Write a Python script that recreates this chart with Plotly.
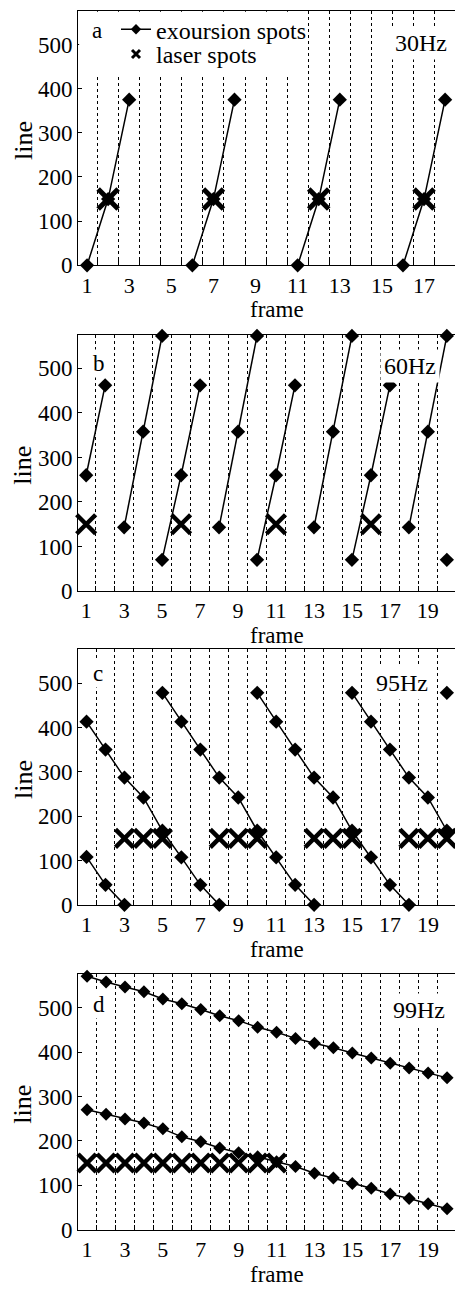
import plotly.graph_objects as go

# ---------------- data ----------------
# panel a : 30Hz
a_exc_frame = [1, 2, 3, None, 6, 7, 8, None, 11, 12, 13, None, 16, 17, 18]
a_exc_line = [0, 150, 375, None, 0, 150, 375, None, 0, 150, 375, None, 0, 150, 375]
a_laser_frame = [2, 7, 12, 17]
a_laser_line = [150, 150, 150, 150]

# panel b : 60Hz
b_exc_frame = [1, 2, None, 3, 4, 5, None, 5, 6, 7, None, 8, 9, 10, None, 10, 11, 12, None,
               13, 14, 15, None, 15, 16, 17, None, 18, 19, 20, None, 20]
b_exc_line = [260, 462, None, 143, 358, 573, None, 70, 260, 462, None, 143, 358, 573, None,
              70, 260, 462, None, 143, 358, 573, None, 70, 260, 462, None, 143, 358, 573, None, 70]
b_laser_frame = [1, 6, 11, 16]
b_laser_line = [150, 150, 150, 150]

# panel c : 95Hz
c_exc_frame = [1, 2, 3, None,
               1, 2, 3, 4, 5, 6, 7, 8, None,
               5, 6, 7, 8, 9, 10, 11, 12, 13, None,
               10, 11, 12, 13, 14, 15, 16, 17, 18, None,
               15, 16, 17, 18, 19, 20, None,
               20]
c_exc_line = [108, 45, 0, None,
              413, 350, 287, 242, 167, 107, 45, 0, None,
              478, 413, 350, 287, 242, 167, 107, 45, 0, None,
              478, 413, 350, 287, 242, 167, 107, 45, 0, None,
              478, 413, 350, 287, 242, 167, None,
              478]
c_laser_frame = [3, 4, 5, 8, 9, 10, 13, 14, 15, 18, 19, 20]
c_laser_line = [150] * 12

# panel d : 99Hz
d_frames = list(range(1, 21))
d_exc_top = [571, 558, 547, 536, 520, 509, 496, 482, 471, 456,
             445, 431, 420, 410, 398, 387, 375, 364, 353, 342]
d_exc_bot = [270, 260, 249, 240, 227, 209, 198, 184, 173, 164,
             153, 142, 127, 116, 104, 93, 80, 70, 58, 47]
d_exc_frame = d_frames + [None] + d_frames
d_exc_line = d_exc_top + [None] + d_exc_bot
d_laser_frame = list(range(1, 12))
d_laser_line = [150] * 11

y_ticks = [0, 100, 200, 300, 400, 500]
x_ticks_a = [1, 3, 5, 7, 9, 11, 13, 15, 17]
x_ticks_bcd = [1, 3, 5, 7, 9, 11, 13, 15, 17, 19]
labels = ["a", "b", "c", "d"]
freqs = ["30Hz", "60Hz", "95Hz", "99Hz"]
legend_names = ["exoursion spots", "laser spots"]

# ---------------- layout geometry ----------------
W, H = 455, 1292
FONT = "Liberation Serif"
panel_px = [(11, 268), (338, 597), (656, 914), (984, 1242)]
x_left_px = 78
x_ranges = [[0.57, 18.47], [0.57, 20.43], [0.55, 20.43], [0.52, 20.42]]


def fy(p):
    return 1 - p / H


def fx(p):
    return p / W


panels = [
    (a_exc_frame, a_exc_line, a_laser_frame, a_laser_line, x_ticks_a, 11, 20, 5),
    (b_exc_frame, b_exc_line, b_laser_frame, b_laser_line, x_ticks_bcd, 11, 19, 4.5),
    (c_exc_frame, c_exc_line, c_laser_frame, c_laser_line, x_ticks_bcd, 11, 18, 4.5),
    (d_exc_frame, d_exc_line, d_laser_frame, d_laser_line, x_ticks_bcd, 10, 18, 4.5),
]

fig = go.Figure()
leg_common = dict(xanchor="left", yanchor="middle", bgcolor="rgba(0,0,0,0)",
                  font=dict(family=FONT, size=24), itemsizing="trace")
layout = dict(
    width=W, height=H,
    margin=dict(l=0, r=0, t=0, b=0),
    paper_bgcolor="white", plot_bgcolor="white",
    font=dict(family=FONT, size=22, color="black"),
    showlegend=True,
    legend=dict(x=fx(116), y=fy(30), **leg_common),
    legend2=dict(x=fx(116), y=fy(55), **leg_common),
)
annotations = []
shapes = []

for i, (ef, el, lf, ll, xt, dsz, xsz, xlw) in enumerate(panels):
    n = i + 1
    xa = "x" if n == 1 else f"x{n}"
    ya = "y" if n == 1 else f"y{n}"
    top, bot = panel_px[i]
    fig.add_trace(go.Scatter(
        x=ef, y=el, mode="lines+markers", xaxis=xa, yaxis=ya,
        name=legend_names[0], showlegend=False,
        line=dict(color="black", width=1.5),
        marker=dict(symbol="diamond", size=dsz, color="black"),
        cliponaxis=False, connectgaps=False,
    ))
    fig.add_trace(go.Scatter(
        x=lf, y=ll, mode="markers", xaxis=xa, yaxis=ya,
        name=legend_names[1], showlegend=False,
        marker=dict(symbol="x-thin", size=xsz, color="black",
                    line=dict(color="black", width=xlw)),
        cliponaxis=False,
    ))
    xr = x_ranges[i]
    minor_vals = [k + 0.5 for k in range(0, 21) if xr[0] < k + 0.5 < xr[1]]
    layout["xaxis" if n == 1 else f"xaxis{n}"] = dict(
        domain=[fx(x_left_px), 1.0], anchor=ya, range=xr,
        showline=True, linecolor="black", linewidth=1, mirror=True,
        tickvals=xt, ticks="", showgrid=False, zeroline=False,
        tickfont=dict(family=FONT, size=22),
        minor=dict(tickvals=minor_vals, showgrid=True, griddash="dot",
                   gridcolor="black", gridwidth=1,
                   ticks="inside", ticklen=5, tickcolor="black"),
    )
    layout["yaxis" if n == 1 else f"yaxis{n}"] = dict(
        domain=[fy(bot), fy(top)], anchor=xa, range=[0, 576],
        showline=True, linecolor="black", linewidth=1,
        tickvals=y_ticks, ticks="inside", ticklen=4, tickcolor="black",
        showgrid=False, zeroline=False,
        tickfont=dict(family=FONT, size=23),
    )
    # axis titles
    annotations.append(dict(text="frame", x=fx(277), y=fy(bot + 45), xref="paper", yref="paper",
                            showarrow=False, xanchor="center", yanchor="middle",
                            font=dict(family=FONT, size=23)))
    annotations.append(dict(text="line", x=fx(23), y=fy((top + bot) / 2 + 3), xref="paper", yref="paper",
                            showarrow=False, xanchor="center", yanchor="middle", textangle=-90,
                            font=dict(family=FONT, size=26)))

# legend entries (styled like the small legend symbols of the original)
fig.add_trace(go.Scatter(x=[None], y=[None], mode="lines+markers", name=legend_names[0],
                         legend="legend",
                         line=dict(color="black", width=1.5),
                         marker=dict(symbol="diamond", size=8, color="black")))
fig.add_trace(go.Scatter(x=[None], y=[None], mode="markers", name=legend_names[1],
                         legend="legend2",
                         marker=dict(symbol="x-thin", size=8, color="black",
                                     line=dict(color="black", width=3))))

# panel letters and frequency labels
letter_px = [(97, 31), (99, 367), (98, 680), (99, 1015)]
freq_px = [(421, 43), (410, 370), (402, 690), (419, 1020)]
for i in range(4):
    lx, ly = letter_px[i]
    annotations.append(dict(text=labels[i], x=fx(lx), y=fy(ly), xref="paper", yref="paper",
                            showarrow=False, xanchor="center", yanchor="middle",
                            bgcolor="white",
                            font=dict(family=FONT, size=23)))
    hx, hy = freq_px[i]
    annotations.append(dict(text=freqs[i], x=fx(hx), y=fy(hy), xref="paper", yref="paper",
                            showarrow=False, xanchor="center", yanchor="middle",
                            bgcolor="white", borderpad=3,
                            font=dict(family=FONT, size=24)))

# white box behind the legend in panel a (hides the dotted lines there; no data in it)
shapes.append(dict(type="rect", xref="x domain", yref="y domain", x0=0.003, x1=0.61, y0=0.751, y1=0.997,
                   fillcolor="white", line=dict(width=0), layer="above"))

layout["annotations"] = annotations
layout["shapes"] = shapes
fig.update_layout(**layout)
fig.write_html("out.html", config={"displayModeBar": False},
               post_script="document.body.style.margin='0px';")
